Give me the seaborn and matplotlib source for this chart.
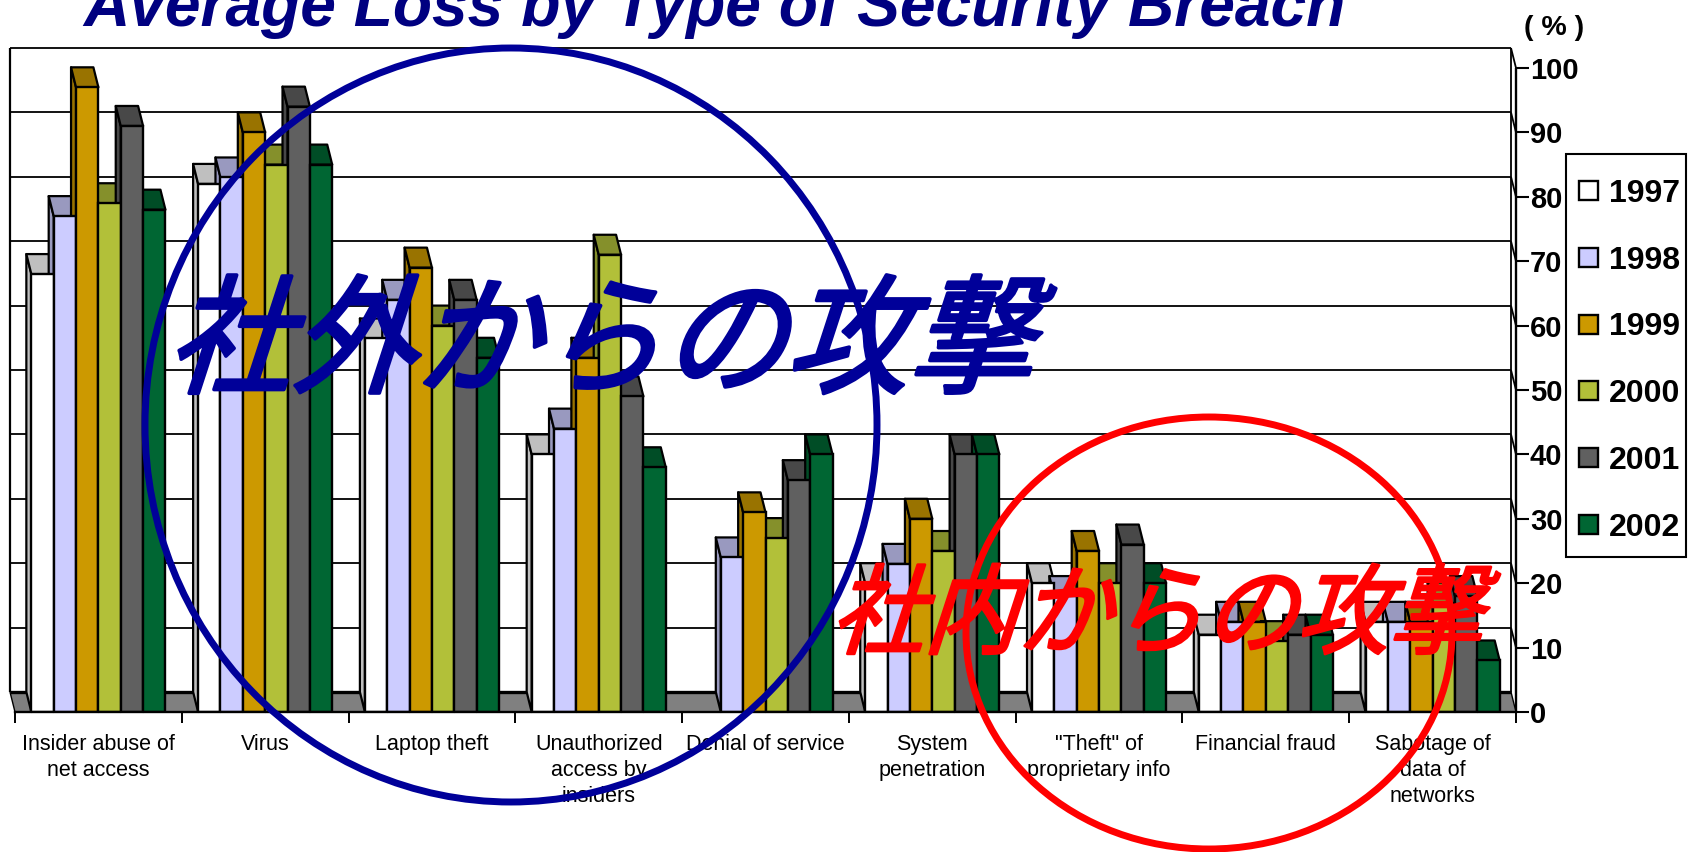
import numpy as np
import matplotlib
matplotlib.use('Agg')
import matplotlib.pyplot as plt
import pandas as pd
import seaborn as sns
from matplotlib.colors import to_rgb
from matplotlib.patches import Ellipse, Polygon, Rectangle
from matplotlib.patheffects import AbstractPathEffect
from matplotlib.ticker import FixedLocator
from matplotlib.transforms import Affine2D

categories = ['Insider abuse of\nnet access', 'Virus', 'Laptop theft',
              'Unauthorized\naccess by\ninsiders', 'Denial of service',
              'System\npenetration', '"Theft" of\nproprietary info',
              'Financial fraud', 'Sabotage of\ndata of\nnetworks']
years = ['1997', '1998', '1999', '2000', '2001', '2002']

loss_1997 = [68, 82, 58, 40, 0, 20, 20, 12, 14]
loss_1998 = [77, 83, 64, 44, 24, 23, 18, 14, 14]
loss_1999 = [97, 90, 69, 55, 31, 30, 25, 14, 14]
loss_2000 = [79, 85, 60, 71, 27, 25, 20, 11, 17]
loss_2001 = [91, 94, 64, 49, 36, 40, 26, 12, 18]
loss_2002 = [78, 85, 55, 38, 40, 40, 20, 12, 8]
all_losses = [loss_1997, loss_1998, loss_1999, loss_2000, loss_2001, loss_2002]

colors = ['#FFFFFF', '#CCCCFF', '#CC9900', '#B2C039', '#606060', '#006633']

W, H = 1694, 852
depth_x = -5 / 166.8   # the fake 3D depth, in category units
depth_y = 20 / 6.44    # and in percent units


class Slant(AbstractPathEffect):
    # CJK fonts have no italic, so shear the glyph outlines (and fatten them a bit)
    def __init__(self, angle, stretch, stroke):
        super().__init__()
        self.angle = angle
        self.stretch = stretch
        self.stroke = stroke

    def draw_path(self, renderer, gc, tpath, affine, rgbFace=None):
        gc0 = renderer.new_gc()
        gc0.copy_properties(gc)
        gc0.set_foreground(rgbFace)
        gc0.set_linewidth(self.stroke)
        shear = Affine2D().scale(1, self.stretch).skew_deg(self.angle, 0)
        renderer.draw_path(gc0, tpath, shear + affine, rgbFace)
        gc0.restore()


def fx(x):
    return x / W


def fy(y):
    return 1 - y / H


rows = []
for year, values in zip(years, all_losses):
    for cat, v in zip(categories, values):
        rows.append({'category': cat, 'year': year, 'loss': v})
df = pd.DataFrame(rows)

sns.set_style('white')
plt.rcParams['font.family'] = ['Liberation Sans', 'DejaVu Sans']
plt.rcParams['text.color'] = 'black'
plt.rcParams['xtick.labelcolor'] = 'black'
plt.rcParams['ytick.labelcolor'] = 'black'

fig = plt.figure(figsize=(W / 100, H / 100), dpi=100)
ax = fig.add_axes([fx(15), fy(712), 1501 / W, 664 / H])
ax.patch.set_alpha(0)

sns.barplot(data=df, x='category', y='loss', hue='year', order=categories, hue_order=years,
            palette=dict(zip(years, colors)), saturation=1, width=0.804, gap=0, errorbar=None,
            edgecolor='black', linewidth=1.7, zorder=3, ax=ax)
ax.set_xlim(-0.5, 8.5)
ax.set_ylim(0, 100 + depth_y)
ax.set_xlabel('')
ax.set_ylabel('')

# back wall
left_back, right_back = -0.5 + depth_x, 8.5 + depth_x
line_style = dict(color='black', clip_on=False, solid_capstyle='butt')
for v in range(10, 110, 10):
    ax.plot([left_back, right_back], [v + depth_y] * 2, lw=1.3, zorder=1, **line_style)
    ax.plot([right_back, 8.5], [v + depth_y, v], lw=1.3, zorder=1, **line_style)
ax.plot([left_back, left_back], [depth_y, 100 + depth_y], lw=1.6, zorder=1, **line_style)
ax.plot([right_back, right_back], [depth_y, 100 + depth_y], lw=1.3, zorder=1, **line_style)
ax.plot([8.5, 8.5], [0, 100], lw=1.7, zorder=1, **line_style)

# floor
ax.add_patch(Polygon([(-0.5, 0), (8.5, 0), (right_back, depth_y), (left_back, depth_y)],
                     facecolor='#808080', edgecolor='none', clip_on=False, zorder=1.5))
ax.plot([left_back, right_back], [depth_y, depth_y], lw=2.4, zorder=1.6, **line_style)
ax.plot([-0.5, left_back], [0, depth_y], lw=1.0, zorder=1.6, **line_style)
ax.plot([8.5, right_back], [0, depth_y], lw=1.0, zorder=1.6, **line_style)

# top and side faces come from the bars seaborn drew
for bars, color in zip(ax.containers, colors):
    dark = tuple(c * 0.75 for c in to_rgb(color))
    for bar in bars:
        x0, w, h = bar.get_x(), bar.get_width(), bar.get_height()
        if h == 0:
            bar.set_visible(False)
            continue
        top = [(x0, h), (x0 + w, h), (x0 + w + depth_x, h + depth_y), (x0 + depth_x, h + depth_y)]
        side = [(x0, 0), (x0, h), (x0 + depth_x, h + depth_y), (x0 + depth_x, depth_y)]
        for face in (side, top):
            ax.add_patch(Polygon(face, facecolor=dark, edgecolor='black', linewidth=1.6,
                                 joinstyle='round', clip_on=False, zorder=2))

sns.despine(ax=ax, left=True, top=True, right=True)
ax.spines['bottom'].set_linewidth(1.7)
ax.spines['bottom'].set_color('black')
ax.spines['bottom'].set_zorder(4)

ax.set_xticks(range(len(categories)), categories)
ax.xaxis.set_minor_locator(FixedLocator(np.arange(-0.5, 9.5)))
ax.tick_params(axis='x', which='major', length=0, pad=15.5, labelsize=15.5)
ax.tick_params(axis='x', which='minor', bottom=True, length=8, width=1.4, color='black')
ax.yaxis.tick_right()
ax.set_yticks(range(0, 110, 10))
ax.tick_params(axis='y', right=True, left=False, length=9, width=1.5, color='black', pad=1, labelsize=21)
for label in ax.get_yticklabels():
    label.set_fontweight('bold')
for label in ax.get_xticklabels():
    label.set_linespacing(1.32)

# legend frame is separate since its side and top padding differ
fig.add_artist(Rectangle((fx(1566), fy(557)), 120 / W, 403 / H, transform=fig.transFigure,
                         facecolor='white', edgecolor='black', linewidth=1.5, zorder=-1))
sns.move_legend(ax, 'upper left', bbox_to_anchor=(fx(1579), fy(179)), bbox_transform=fig.transFigure,
                title=None, frameon=False, borderaxespad=0, borderpad=0, labelspacing=1.15,
                handlelength=0.6, handleheight=0.53, handletextpad=0.34,
                prop={'weight': 'bold', 'size': 23})
ax.get_legend().set_zorder(5)

fig.text(fx(83), fy(26), 'Average Loss by Type of Security Breach', color='#000080', fontsize=46.2,
         fontweight='bold', fontstyle='italic', va='baseline', ha='left')
fig.text(fx(1524), fy(35), '( % )', fontsize=20.5, fontweight='bold', va='baseline', ha='left')

fig.add_artist(Ellipse((fx(511), fy(425)), 2 * 366 / W, 2 * 377 / H, transform=fig.transFigure,
                       fill=False, edgecolor='#000099', linewidth=5, zorder=2))
fig.add_artist(Ellipse((fx(1209), fy(633)), 2 * 243 / W, 2 * 216 / H, transform=fig.transFigure,
                       fill=False, edgecolor='#FF0000', linewidth=5, zorder=2))

fig.text(fx(166), fy(383), '社外からの攻撃', color='#000099', fontsize=89, va='baseline', ha='left',
         family=['Noto Sans CJK JP', 'DejaVu Sans'], path_effects=[Slant(18, 1.04, 2.6)])
fig.text(fx(830), fy(646), '社内からの攻撃', color='#FF0000', fontsize=67, va='baseline', ha='left',
         family=['Noto Sans CJK JP', 'DejaVu Sans'], path_effects=[Slant(18, 1.05, 2.0)])

fig.savefig('out.png', dpi=100)
